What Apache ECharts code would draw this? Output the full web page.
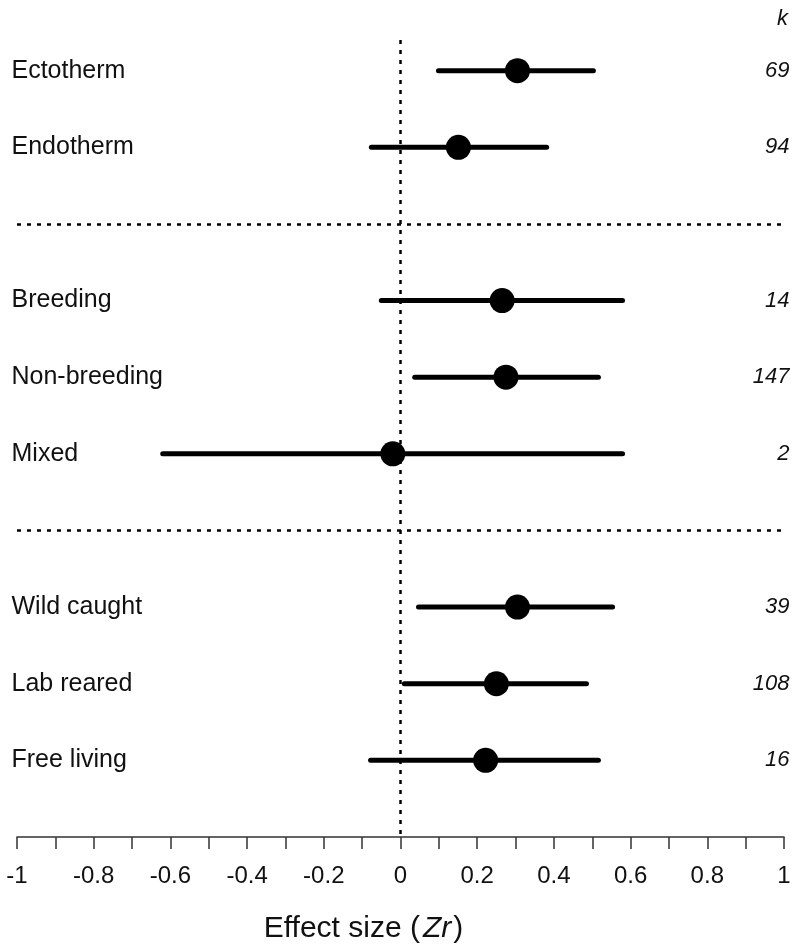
<!DOCTYPE html>
<html>
<head>
<meta charset="utf-8">
<script src="https://cdn.jsdelivr.net/npm/echarts@6/dist/echarts.min.js"></script>
<style>
  html, body { margin: 0; padding: 0; background: #fff; }
  #chart { width: 795px; height: 949px; }
</style>
</head>
<body>
<div id="chart"></div>
<script>
// ---- Data ----
const categories = ['Ectotherm', 'Endotherm', 'Breeding', 'Non-breeding', 'Mixed', 'Wild caught', 'Lab reared', 'Free living'];
const estimates  = [0.305, 0.151, 0.265, 0.275, -0.02, 0.305, 0.25, 0.222];
const lowerCI    = [0.099, -0.076, -0.05, 0.037, -0.62, 0.047, 0.01, -0.078];
const upperCI    = [0.503, 0.381, 0.579, 0.516, 0.579, 0.553, 0.485, 0.516];
const kValues    = [69, 94, 14, 147, 2, 39, 108, 16];
const groupSizes = [2, 3, 3];
const xTickLabels = ['-1', '-0.8', '-0.6', '-0.4', '-0.2', '0', '0.2', '0.4', '0.6', '0.8', '1'];

// ---- Row positions (rows one unit apart, an extra unit gap between groups) ----
const rowPos = [];
const separators = [];
let p = 0;
groupSizes.forEach((n, g) => {
  for (let i = 0; i < n; i++) { rowPos.push(p); p++; }
  if (g < groupSizes.length - 1) { separators.push(p); p++; }
});
const yMax = p; // bottom of plot (axis)

const FONT = '"Liberation Sans", Arial, Helvetica, sans-serif';
const TXT = '#000';

const chart = echarts.init(document.getElementById('chart'), null, { renderer: 'canvas' });

const option = {
  backgroundColor: '#fff',
  animation: false,
  grid: { left: 17, right: 11, top: 40, bottom: 110, containLabel: false },
  xAxis: {
    type: 'value',
    min: -1, max: 1, interval: 0.1,
    name: '{n|Effect size (}{i|Zr}{n|)}',
    nameLocation: 'middle',
    nameGap: 77,
    nameTextStyle: {
      padding: [0, 74, 0, 0],
      rich: {
        n: { fontFamily: FONT, fontSize: 30, color: '#111' },
        i: { fontFamily: FONT, fontSize: 30, color: '#111', fontStyle: 'italic', padding: [0, 2, 0, 3] }
      }
    },
    axisLine: { show: true, onZero: false, lineStyle: { color: '#333', width: 1.5 } },
    axisTick: { show: true, length: 12, lineStyle: { color: '#333', width: 1.5 } },
    splitLine: { show: false },
    axisLabel: {
      margin: 27,
      fontFamily: FONT, fontSize: 24, color: '#111',
      formatter: function (v) {
        const t = Math.round(v * 10);
        if (t % 2 !== 0) return '';
        return xTickLabels[(t + 10) / 2];
      }
    }
  },
  yAxis: {
    type: 'value', inverse: true, min: -0.4, max: yMax, show: false
  },
  graphic: [{
    type: 'text', right: 7, top: 8,
    style: { text: 'k', font: 'italic 22px ' + FONT, fill: '#111' }
  }],
  series: [
    {
      // reference lines
      type: 'line', data: [], silent: true, z: 1,
      markLine: {
        silent: true, symbol: 'none', label: { show: false },
        lineStyle: { color: '#000', width: 2.5, type: [4, 6], opacity: 1 },
        data: [{ xAxis: 0 }].concat(separators.map(s => ({ yAxis: s })))
      }
    },
    {
      // confidence intervals
      type: 'custom', z: 2,
      data: categories.map((c, i) => [lowerCI[i], upperCI[i], rowPos[i]]),
      renderItem: function (params, api) {
        const a = api.coord([api.value(0), api.value(2)]);
        const b = api.coord([api.value(1), api.value(2)]);
        return {
          type: 'line',
          shape: { x1: a[0], y1: a[1], x2: b[0], y2: b[1] },
          style: { stroke: '#000', lineWidth: 5, lineCap: 'round' }
        };
      },
      encode: { x: [0, 1], y: 2 }
    },
    {
      // point estimates
      type: 'scatter', z: 3,
      symbol: 'circle', symbolSize: 25,
      itemStyle: { color: '#000', opacity: 1 },
      data: categories.map((c, i) => [estimates[i], rowPos[i]])
    },
    {
      // category names
      type: 'scatter', z: 4, symbolSize: 1, silent: true, clip: false,
      itemStyle: { color: '#fff', opacity: 1 },
      data: categories.map((c, i) => ({ value: [-1, rowPos[i]], name: c })),
      label: {
        show: true, position: 'left', distance: 5, align: 'left', verticalAlign: 'middle',
        formatter: '{b}', fontFamily: FONT, fontSize: 25, color: '#111', opacity: 1
      }
    },
    {
      // k values
      type: 'scatter', z: 4, symbolSize: 1, silent: true, clip: false,
      itemStyle: { color: '#fff', opacity: 1 },
      data: kValues.map((k, i) => ({ value: [1, rowPos[i]], name: String(k) })),
      label: {
        show: true, position: 'right', distance: 5, align: 'right', verticalAlign: 'middle',
        formatter: '{b}', fontFamily: FONT, fontSize: 22, fontStyle: 'italic', color: '#111', opacity: 1
      }
    }
  ]
};
chart.setOption(option);
</script>
</body>
</html>
